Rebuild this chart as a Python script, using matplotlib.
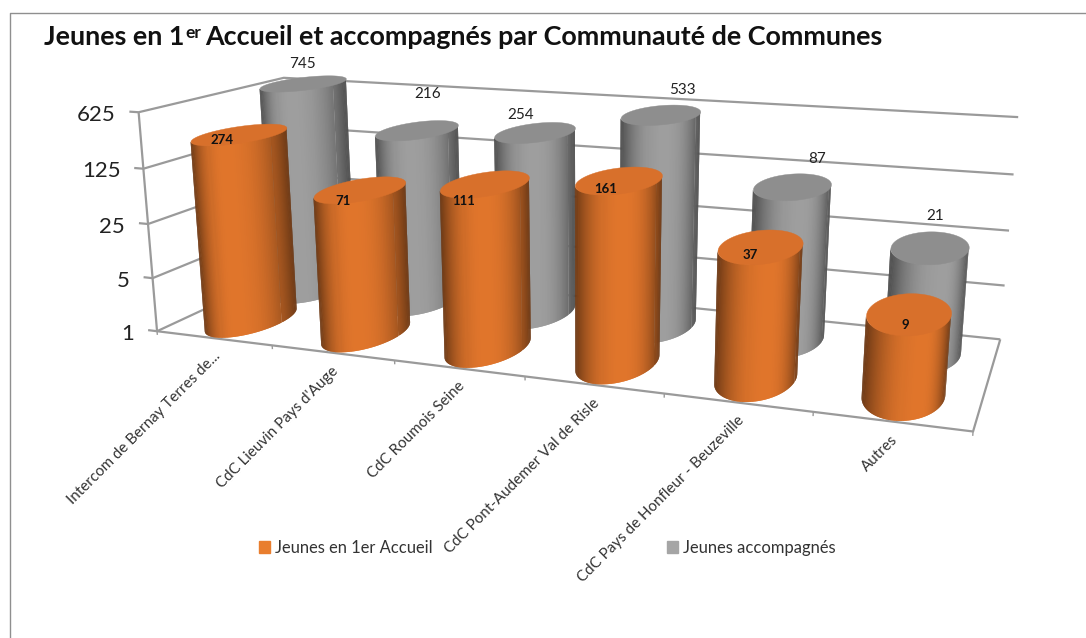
"""Jeunes en 1er Accueil et accompagnes: Excel-style 3D cylinder chart."""
import numpy as np
import matplotlib
matplotlib.use("Agg")
import matplotlib.pyplot as plt
from matplotlib.lines import Line2D
from matplotlib.patches import Rectangle
from mpl_toolkits.mplot3d.art3d import Poly3DCollection

plt.rcParams["font.family"] = ["Lato", "DejaVu Sans"]

CATEGORIES = [
    "Intercom de Bernay Terres de...",
    "CdC Lieuvin Pays d'Auge",
    "CdC Roumois Seine",
    "CdC Pont-Audemer Val de Risle",
    "CdC Pays de Honfleur - Beuzeville",
    "Autres",
]
PREMIER_ACCUEIL = [274, 71, 111, 161, 37, 9]
ACCOMPAGNES = [745, 216, 254, 533, 87, 21]
Y_TICKS = [1, 5, 25, 125, 625]

ORANGE = np.array([0.88, 0.46, 0.17])
ORANGE_TOP = "#D8702B"
GREY = np.array([0.62, 0.62, 0.62])
GREY_TOP = "#8E8E8E"
FRAME = "#9A9A9A"
W, H = 1086, 638
RX, RY = 0.265, 0.25

# Excel nudges its data labels, these are the pixel shifts it ended up with
GREY_SHIFT = [(0, -4), (11, -20), (-15, -1), (21, -7), (24, -10), (4, -14)]
ORANGE_SHIFT = [(-18, 6), (-17, 12), (-22, 18), (-14, 9), (-10, 9), (-3, 12)]

# frame corners as they sit in the picture: (world x, depth, log5 value) -> pixel
CAL_WORLD = [(0, 0, 0), (0, 0, 1), (0, 0, 2), (0, 0, 3), (0, 0, 4),
             (1, 0, 0), (2, 0, 0), (3, 0, 0), (4, 0, 0), (5, 0, 0), (6, 0, 0),
             (6, 1, 0), (6, 1, 1), (6, 1, 2), (6, 1, 3), (6, 1, 4),
             (0, 1, 4), (0, 1, 0)]
CAL_PIXEL = [(157, 331), (152, 278), (148, 224), (144, 168), (139, 112),
             (272, 345.3), (395, 360.5), (525, 376.6), (664, 393.9), (813, 412.3), (973, 432),
             (1000, 338), (1005, 285), (1009, 231), (1014, 174), (1018, 118),
             (283, 78), (295, 268)]


def solve_camera():
    rows = []
    for (x, y, z), (u, v) in zip(CAL_WORLD, CAL_PIXEL):
        u, v = u / 1000, v / 1000
        rows.append([x, y, z, 1, 0, 0, 0, 0, -u * x, -u * y, -u * z, -u])
        rows.append([0, 0, 0, 0, x, y, z, 1, -v * x, -v * y, -v * z, -v])
    p = np.linalg.svd(np.array(rows))[2][-1].reshape(3, 4)
    p[:2] *= 1000
    if p[2] @ np.array([3, 0.5, 2, 1]) < 0:
        p = -p
    return p


CAMERA = solve_camera()
EYE = np.linalg.svd(CAMERA)[2][-1]
EYE = EYE[:3] / EYE[3]


def log5(v):
    return np.log(v) / np.log(5)


def pixel(x, y, z):
    u, v, w = CAMERA @ np.array([x, y, z, 1.0])
    return u / w, v / w


def label(px, py, s, **kw):
    return fig.text(px / W, 1 - py / H, s, **kw)


fig = plt.figure(figsize=(W / 100, H / 100), dpi=100)
fig.patch.set_facecolor("white")
ax = fig.add_axes([0, 0, 1, 1], projection="3d", computed_zorder=False)
ax.set_axis_off()
ax.patch.set_visible(False)


def fixed_proj():
    # picture pixels -> the 2D coordinates of this axes
    o = ax.transData.transform([[0, 0], [1, 0], [0, 1]])
    sx, sy = o[1, 0] - o[0, 0], o[2, 1] - o[0, 1]
    ox, oy = o[0]
    p = CAMERA
    return np.array([
        (p[0] - ox * p[2]) / sx,
        ((H * p[2] - p[1]) - oy * p[2]) / sy,
        [0, 0, 0, -1],
        p[2],
    ])


ax.get_proj = fixed_proj


def frame_line(xs, ys, zs, lw=1.6):
    ax.plot(xs, ys, zs, color=FRAME, lw=lw, zorder=1, clip_on=False,
            solid_capstyle="butt")


for t in Y_TICKS:
    z = log5(t)
    frame_line([-0.08, 0, 0, 6], [0, 0, 1, 1], [z, z, z, z])
    px, py = pixel(0, 0, z)
    label(px - 23, py + 2.5, str(t), ha="right", va="center", fontsize=16, color="#222222")
frame_line([0, 0], [0, 0], [0, log5(625)])
frame_line([0, 6, 6], [0, 0, 1], [0, 0, 0])
for i in range(7):
    frame_line([i, i], [0, 0], [0, -0.07], lw=1.0)


def cylinder(cx, cy, top, base_col, top_col, zo):
    n = 160
    th = np.linspace(0, 2 * np.pi, n + 1)
    xs, ys = cx + RX * np.cos(th), cy + RY * np.sin(th)
    verts, mids = [], []
    for k in range(n):
        mid = (th[k] + th[k + 1]) / 2
        # only the facets the eye can see, the others just bleed at the rim
        if (EYE[0] - cx) * np.cos(mid) / RX + (EYE[1] - cy) * np.sin(mid) / RY < 0.98:
            continue
        k2 = min(k + 2, n)  # facets overlap so that no seam shows
        verts.append([(xs[k], ys[k], 0), (xs[k2], ys[k2], 0),
                      (xs[k2], ys[k2], top), (xs[k], ys[k], top)])
        mids.append(pixel(cx + RX * np.cos(mid), cy + RY * np.sin(mid), 0)[0])
    # shade across the visible width, the highlight drifts right along the chart
    mids = np.array(mids)
    u = (mids - mids.min()) / (mids.max() - mids.min())
    u0 = 0.3 + 0.4 * cx / 6
    b = 1 - (np.abs(u - u0) / np.where(u < u0, u0, 1 - u0)) ** 2.4
    cols = np.clip(np.outer(0.48 + 0.52 * b, base_col), 0, 1)
    side = Poly3DCollection(verts, facecolors=cols, edgecolors="none", linewidths=0,
                            zorder=zo, clip_on=False)
    ax.add_collection3d(side, autolim=False)
    cap = Poly3DCollection([list(zip(xs, ys, np.full(n + 1, top)))], facecolors=top_col,
                           edgecolors=top_col, linewidths=0.3, zorder=zo + 0.5, clip_on=False)
    ax.add_collection3d(cap, autolim=False)


for i, v in enumerate(ACCOMPAGNES):
    cylinder(i + 0.5, 0.74, log5(v), GREY, GREY_TOP, 2)
    px, py = pixel(i + 0.5, 0.74, log5(v) + 0.3)
    label(px + GREY_SHIFT[i][0], py + GREY_SHIFT[i][1], str(v), ha="center", va="center",
          fontsize=11, color="#222222")
for i, v in enumerate(PREMIER_ACCUEIL):
    cylinder(i + 0.5, 0.26, log5(v), ORANGE, ORANGE_TOP, 3)
    px, py = pixel(i + 0.5, 0.26, log5(v))
    label(px + ORANGE_SHIFT[i][0], py + ORANGE_SHIFT[i][1], str(v), ha="center", va="center",
          fontsize=9.5, fontweight="bold", color="#111111")

for i, lab in enumerate(CATEGORIES):
    px, py = pixel(i + 0.5, 0, 0)
    label(px + 4, py + 16, lab, rotation=45, rotation_mode="anchor", ha="right", va="center",
          fontsize=10.9, color="#333333")

# title, the ordinal suffix is set as a small raised piece
r = fig.canvas.get_renderer()
t1 = label(44, 45, "Jeunes en 1", fontsize=19.35, fontweight="bold", color="#111111")
x = t1.get_window_extent(r).x1 + 1
t2 = label(x, 38, "er", fontsize=12.5, fontweight="bold", color="#111111")
x = t2.get_window_extent(r).x1 + 4
label(x, 45, "Accueil et accompagnés par Communauté de Communes",
      fontsize=19.35, fontweight="bold", color="#111111")

handles = [Rectangle((0, 0), 1, 1, color="#E97E2E"), Rectangle((0, 0), 1, 1, color="#A5A5A5")]
fig.legend(handles, ["Jeunes en 1er Accueil", "Jeunes accompagnés"], ncol=2, frameon=False,
           loc="center", bbox_to_anchor=(547 / W, 1 - 548 / H), fontsize=11.9, handlelength=0.7,
           handleheight=0.7, handletextpad=0.25, columnspacing=14.2, labelcolor="#333333",
           borderpad=0, borderaxespad=0)

# chart area border: only the top and left edges fall inside the screenshot
fig.add_artist(Line2D([9.5 / W, 9.5 / W, 1], [0, 1 - 12.5 / H, 1 - 12.5 / H], color="#8F8F8F",
                      lw=1.0, transform=fig.transFigure))

fig.savefig("out.png", dpi=100)
